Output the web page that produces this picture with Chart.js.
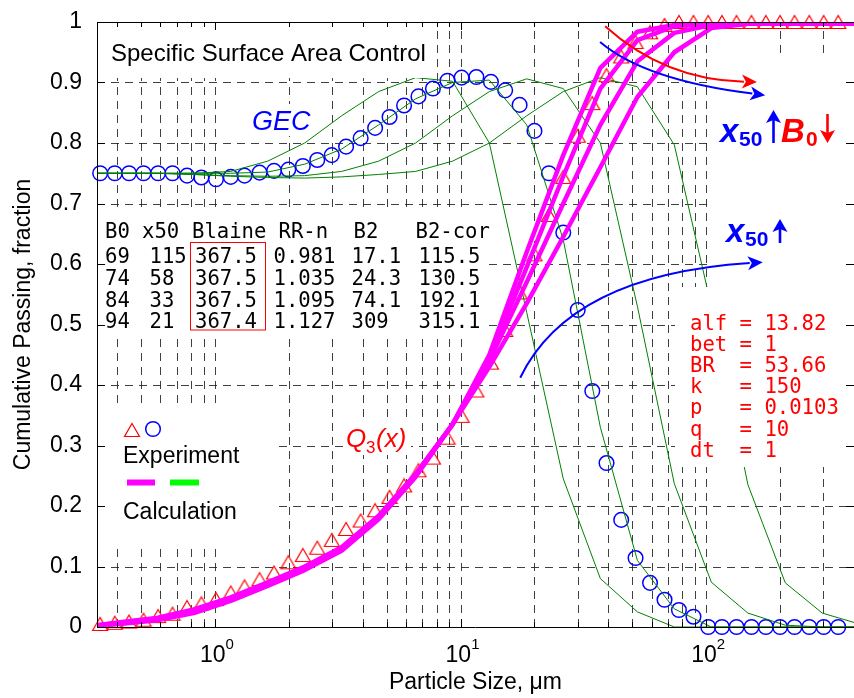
<!DOCTYPE html>
<html>
<head>
<meta charset="utf-8">
<script src="https://cdn.jsdelivr.net/npm/chart.js@4.4.1/dist/chart.umd.min.js"></script>
<style>
  html, body { margin: 0; padding: 0; background: #fff; }
  #wrap { position: relative; width: 854px; height: 698px; }
</style>
</head>
<body>
<div id="wrap"><canvas id="c" width="854" height="698"></canvas></div>
<script>
// Sieve sizes of the measured points, µm
const sizes = [0.341, 0.391, 0.447, 0.512, 0.587, 0.672, 0.770, 0.881, 1.01, 1.16, 1.32, 1.52, 1.74, 1.99, 2.28, 2.61,
  2.99, 3.42, 3.92, 4.49, 5.14, 5.89, 6.74, 7.72, 8.85, 10.1, 11.6, 13.3, 15.2, 17.4, 20.0, 22.9, 26.2, 30.0, 34.4,
  39.3, 45.1, 51.6, 59.1, 67.7, 77.5, 88.8, 102, 116, 133, 153, 175, 200, 229, 263, 301, 345];

// Measured cumulative passing Q3(x)
const q3Measured = [0.005, 0.007, 0.009, 0.012, 0.018, 0.022, 0.033, 0.039, 0.046, 0.057, 0.067, 0.079, 0.090, 0.107,
  0.119, 0.131, 0.144, 0.162, 0.176, 0.193, 0.215, 0.234, 0.259, 0.280, 0.313, 0.349, 0.391, 0.437, 0.491, 0.553,
  0.616, 0.681, 0.744, 0.812, 0.866, 0.912, 0.943, 0.967, 0.983, 0.995, 1, 1, 1, 1, 1, 1, 1, 1, 1, 1, 1, 1];

// Measured GEC
const gecMeasured = [0.750, 0.750, 0.750, 0.750, 0.750, 0.750, 0.746, 0.743, 0.740, 0.744, 0.746, 0.751, 0.754, 0.756,
  0.762, 0.772, 0.780, 0.794, 0.808, 0.825, 0.843, 0.862, 0.877, 0.890, 0.903, 0.908, 0.909, 0.901, 0.887, 0.863,
  0.820, 0.750, 0.652, 0.524, 0.390, 0.271, 0.177, 0.114, 0.073, 0.045, 0.028, 0.017, 0, 0, 0, 0, 0, 0, 0, 0, 0, 0];

// Size grid of the model calculation, µm
const modelSizes = [0.29, 0.41, 0.58, 0.82, 1.16, 1.64, 2.32, 3.28, 4.64, 6.56, 9.28, 13.1, 18.6, 26.2, 37.1, 52.5,
  74.2, 105, 148, 210, 297, 420];

// Calculated Q3 for B0 = 94, 84, 74, 69
const q3Calc94 = [0, 0.005, 0.011, 0.023, 0.043, 0.068, 0.094, 0.126, 0.178, 0.248, 0.335, 0.45, 0.62, 0.78, 0.924,
  0.984, 0.995, 0.997, 0.997, 0.997, 0.997, 0.997];
const q3Calc84 = [0, 0.006, 0.012, 0.025, 0.045, 0.070, 0.096, 0.128, 0.180, 0.250, 0.335, 0.445, 0.595, 0.745, 0.89,
  0.97, 0.993, 0.997, 0.997, 0.997, 0.997, 0.997];
const q3Calc74 = [0, 0.007, 0.014, 0.027, 0.047, 0.072, 0.098, 0.130, 0.182, 0.252, 0.335, 0.44, 0.57, 0.70, 0.83,
  0.935, 0.982, 0.995, 0.997, 0.997, 0.997, 0.997];
const q3Calc69 = [0, 0.008, 0.015, 0.029, 0.049, 0.074, 0.100, 0.132, 0.184, 0.253, 0.335, 0.43, 0.535, 0.645, 0.76,
  0.876, 0.95, 0.99, 0.997, 0.997, 0.997, 0.997];

// Calculated GEC for B0 = 94, 84, 74, 69
const gecCalc94 = [0.75, 0.75, 0.75, 0.75, 0.753, 0.77, 0.80, 0.845, 0.885, 0.908, 0.902, 0.80, 0.52, 0.245, 0.08,
  0.025, 0, 0, 0, 0, 0, 0];
const gecCalc84 = [0.75, 0.75, 0.75, 0.75, 0.75, 0.752, 0.765, 0.79, 0.83, 0.873, 0.90, 0.904, 0.83, 0.64, 0.33,
  0.11, 0.03, 0, 0, 0, 0, 0];
const gecCalc74 = [0.75, 0.75, 0.75, 0.748, 0.746, 0.745, 0.746, 0.753, 0.77, 0.80, 0.845, 0.885, 0.906, 0.89, 0.80,
  0.53, 0.237, 0.074, 0.023, 0.003, 0, 0];
const gecCalc69 = [0.75, 0.75, 0.75, 0.748, 0.745, 0.743, 0.742, 0.744, 0.748, 0.753, 0.77, 0.80, 0.845, 0.885, 0.908,
  0.893, 0.797, 0.53, 0.235, 0.073, 0.023, 0.005];

// Axis ticks
const yTicks = [0, 0.1, 0.2, 0.3, 0.4, 0.5, 0.6, 0.7, 0.8, 0.9, 1];
const xMajorTicks = [1, 10, 100];
const xTickExponents = ['0', '1', '2'];
const xMinorTicks = [0.4, 0.5, 0.6, 0.7, 0.8, 0.9, 2, 3, 4, 5, 6, 7, 8, 9, 20, 30, 40, 50, 60, 70, 80, 90, 200, 300];

// Parameter table
const tableHeader = ['B0', 'x50', 'Blaine', 'RR-n', 'B2', 'B2-cor'];
const tableRows = [
  ['69', '115', '367.5', '0.981', '17.1', '115.5'],
  ['74', '58', '367.5', '1.035', '24.3', '130.5'],
  ['84', '33', '367.5', '1.095', '74.1', '192.1'],
  ['94', '21', '367.4', '1.127', '309', '315.1']
];
const modelParams = ['alf = 13.82', 'bet = 1', 'BR  = 53.66', 'k   = 150', 'p   = 0.0103', 'q   = 10', 'dt  = 1'];

// Trend arrows: start, control and end point in data units
const arrowB0 = { color: '#ff0000', pts: [[38.8, 0.993], [68.0, 0.904], [161, 0.901]] };
const arrowX50top = { color: '#0000ff', pts: [[37.0, 0.967], [56.4, 0.904], [174, 0.879]] };
const arrowX50low = { color: '#0000ff', pts: [[17.5, 0.412], [27.9, 0.582], [170, 0.603]] };

const SANS = '"Liberation Sans", Arial, Helvetica, sans-serif';
const MONO = '"DejaVu Sans Mono", monospace';

function triangleMarker(color) {
  const c = document.createElement('canvas');
  c.width = 18; c.height = 16;
  const g = c.getContext('2d');
  g.strokeStyle = color; g.lineWidth = 1.2;
  g.beginPath(); g.moveTo(9, 1.5); g.lineTo(16.5, 14.5); g.lineTo(1.5, 14.5); g.closePath(); g.stroke();
  return c;
}
const triImg = triangleMarker('#ff0000');

const pairs = (xs, ys) => xs.map((x, i) => ({ x, y: ys[i] }));

function calcLine(ys, color, width) {
  return {
    data: pairs(modelSizes, ys), showLine: true, pointRadius: 0, borderColor: color,
    borderWidth: width, tension: 0, fill: false, borderJoinStyle: 'round', borderCapStyle: 'round'
  };
}

function text(ctx, str, x, y, font, color, align) {
  ctx.font = font; ctx.fillStyle = color; ctx.textAlign = align || 'left'; ctx.textBaseline = 'alphabetic';
  ctx.fillText(str, x, y);
}

function vArrow(ctx, x, yFrom, yTo, color) {
  const dir = yTo < yFrom ? -1 : 1;
  ctx.save();
  ctx.strokeStyle = color; ctx.fillStyle = color; ctx.lineWidth = 2.6;
  ctx.beginPath(); ctx.moveTo(x, yFrom); ctx.lineTo(x, yTo - dir * 10); ctx.stroke();
  ctx.beginPath(); ctx.moveTo(x, yTo); ctx.lineTo(x - 7.5, yTo - dir * 13); ctx.lineTo(x, yTo - dir * 10);
  ctx.lineTo(x + 7.5, yTo - dir * 13); ctx.closePath(); ctx.fill();
  ctx.restore();
}

function curvedArrow(ctx, xs, ys, a) {
  const p = a.pts.map(([x, y]) => [xs.getPixelForValue(x), ys.getPixelForValue(y)]);
  const [p0, p1, p2] = p;
  const dx = p2[0] - p1[0], dy = p2[1] - p1[1];
  const len = Math.hypot(dx, dy), ux = dx / len, uy = dy / len;
  const hl = 15, hw = 7;
  const bx = p2[0] - ux * hl, by = p2[1] - uy * hl;
  ctx.save();
  ctx.strokeStyle = a.color; ctx.fillStyle = a.color; ctx.lineWidth = 2;
  ctx.beginPath(); ctx.moveTo(p0[0], p0[1]); ctx.quadraticCurveTo(p1[0], p1[1], bx + ux * 2, by + uy * 2); ctx.stroke();
  ctx.beginPath(); ctx.moveTo(p2[0], p2[1]);
  ctx.lineTo(bx - uy * hw, by + ux * hw); ctx.lineTo(bx + ux * 4, by + uy * 4); ctx.lineTo(bx + uy * hw, by - ux * hw);
  ctx.closePath(); ctx.fill();
  ctx.restore();
}

const decorations = {
  id: 'decorations',
  beforeDatasetsDraw(chart) {
    const { ctx, chartArea: a, scales: { x: xs, y: ys } } = chart;
    ctx.save();
    ctx.strokeStyle = 'rgba(30,30,30,0.85)'; ctx.lineWidth = 1; ctx.setLineDash([8, 6]);
    for (const v of xMinorTicks.concat(xMajorTicks)) {
      const px = Math.round(xs.getPixelForValue(v)) + 0.5;
      ctx.beginPath(); ctx.moveTo(px, a.bottom); ctx.lineTo(px, a.top); ctx.stroke();
    }
    for (const v of yTicks.slice(1, -1)) {
      const py = Math.round(ys.getPixelForValue(v)) + 0.5;
      ctx.beginPath(); ctx.moveTo(a.left, py); ctx.lineTo(a.right, py); ctx.stroke();
    }
    ctx.restore();
  },
  afterDatasetsDraw(chart) {
    const { ctx, chartArea: a, scales: { x: xs, y: ys } } = chart;
    ctx.save();
    // white text backgrounds
    ctx.fillStyle = '#ffffff';
    [[103, 27, 329, 51], [249, 104, 65, 32], [99, 213, 396, 29], [99, 242, 387, 91], [99, 406, 177, 137],
     [344, 422, 67, 33], [708, 58, 146, 229], [675, 287, 179, 180]].forEach(r => ctx.fillRect(r[0], r[1], r[2], r[3]));

    text(ctx, 'Specific Surface Area Control', 111, 61, '24px ' + SANS, '#000');
    text(ctx, 'GEC', 252, 130, 'italic 27px ' + SANS, '#0000ff');
    text(ctx, 'Q', 346, 447, 'italic 26px ' + SANS, '#ff0000');
    text(ctx, '3', 366, 453, '17px ' + SANS, '#ff0000');
    text(ctx, '(x)', 376, 447, 'italic 26px ' + SANS, '#ff0000');

    // parameter table
    const mono = '20.6px ' + MONO;
    const colX = [105, 149.5, 195, 273.5, 351.5, 418.5];
    const headX = [105, 142, 192, 278.5, 353.5, 415.5];
    tableHeader.forEach((s, i) => text(ctx, s, headX[i], 238.3, mono, '#000'));
    tableRows.forEach((row, r) => row.forEach((s, i) => text(ctx, s, colX[i], 263.3 + r * 21.7, mono, '#000')));
    ctx.strokeStyle = '#ff0000'; ctx.lineWidth = 1;
    ctx.strokeRect(190.5, 242.5, 75, 87.5);

    // model parameters
    modelParams.forEach((s, i) => text(ctx, s, 690, 330 + i * 21.1, mono, '#ff0000'));

    // trend labels
    const bi = 'bold italic 33px ' + SANS, sb = 'bold 21px ' + SANS;
    text(ctx, 'x', 720, 142, bi, '#0000ff');
    text(ctx, '50', 739, 146, sb, '#0000ff');
    vArrow(ctx, 773.5, 143, 110, '#0000ff');
    text(ctx, 'B', 781, 142, bi, '#ff0000');
    text(ctx, '0', 806, 146, sb, '#ff0000');
    vArrow(ctx, 827.5, 114, 143, '#ff0000');
    text(ctx, 'x', 726, 242, bi, '#0000ff');
    text(ctx, '50', 745, 246, sb, '#0000ff');
    vArrow(ctx, 780, 243, 219, '#0000ff');

    // legend
    ctx.drawImage(triImg, 123, 422);
    ctx.strokeStyle = '#0000ff'; ctx.lineWidth = 1.5;
    ctx.beginPath(); ctx.arc(153, 429, 7.3, 0, Math.PI * 2); ctx.stroke();
    text(ctx, 'Experiment', 123, 463, '23px ' + SANS, '#000');
    ctx.lineWidth = 6; ctx.lineCap = 'butt';
    ctx.strokeStyle = '#ff00ff'; ctx.beginPath(); ctx.moveTo(127, 482.5); ctx.lineTo(155, 482.5); ctx.stroke();
    ctx.strokeStyle = '#00ff00'; ctx.beginPath(); ctx.moveTo(170, 482.5); ctx.lineTo(199, 482.5); ctx.stroke();
    text(ctx, 'Calculation', 123, 519, '23px ' + SANS, '#000');

    // axes box and ticks
    ctx.strokeStyle = '#000'; ctx.lineWidth = 1;
    ctx.beginPath();
    ctx.moveTo(a.left + 0.5, a.bottom + 0.5); ctx.lineTo(a.left + 0.5, a.top + 0.5); ctx.lineTo(a.right + 0.5, a.top + 0.5);
    ctx.moveTo(a.left, a.bottom + 0.5); ctx.lineTo(a.right, a.bottom + 0.5);
    for (const v of yTicks) {
      const py = Math.round(ys.getPixelForValue(v)) + 0.5;
      ctx.moveTo(a.left, py); ctx.lineTo(a.left + 8, py);
      ctx.moveTo(a.right, py); ctx.lineTo(a.right - 8, py);
    }
    for (const v of xMajorTicks) {
      const px = Math.round(xs.getPixelForValue(v)) + 0.5;
      ctx.moveTo(px, a.bottom); ctx.lineTo(px, a.bottom - 8);
      ctx.moveTo(px, a.top); ctx.lineTo(px, a.top + 8);
    }
    for (const v of xMinorTicks) {
      const px = Math.round(xs.getPixelForValue(v)) + 0.5;
      ctx.moveTo(px, a.bottom); ctx.lineTo(px, a.bottom - 5);
      ctx.moveTo(px, a.top); ctx.lineTo(px, a.top + 5);
    }
    ctx.stroke();

    // x tick labels with exponents
    xMajorTicks.forEach((v, i) => {
      const px = xs.getPixelForValue(v);
      ctx.font = '23px ' + SANS; const w1 = ctx.measureText('10').width;
      ctx.font = '15px ' + SANS; const w2 = ctx.measureText(xTickExponents[i]).width;
      const x0 = px - (w1 + w2) / 2 + 2;
      text(ctx, '10', x0, 662, '23px ' + SANS, '#000');
      text(ctx, xTickExponents[i], x0 + w1, 649, '15px ' + SANS, '#000');
    });

    // trend arrows
    [arrowB0, arrowX50top, arrowX50low].forEach(ar => curvedArrow(ctx, xs, ys, ar));
    ctx.restore();
  }
};

new Chart(document.getElementById('c'), {
  type: 'scatter',
  data: {
    datasets: [
      calcLine(q3Calc94, '#ff00ff', 4.5),
      calcLine(q3Calc84, '#ff00ff', 4.5),
      calcLine(q3Calc74, '#ff00ff', 4.5),
      calcLine(q3Calc69, '#ff00ff', 4.5),
      calcLine(gecCalc94, '#008000', 1),
      calcLine(gecCalc84, '#008000', 1),
      calcLine(gecCalc74, '#008000', 1),
      calcLine(gecCalc69, '#008000', 1),
      { data: pairs(sizes, q3Measured), showLine: false, pointStyle: triImg, pointRadius: 8, clip: false },
      { data: pairs(sizes, gecMeasured), showLine: false, pointStyle: 'circle', pointRadius: 7.3,
        pointBorderWidth: 1.5, borderColor: '#0000ff', backgroundColor: 'rgba(0,0,0,0)', clip: false }
    ]
  },
  options: {
    responsive: false,
    animation: false,
    devicePixelRatio: 1,
    layout: { autoPadding: false, padding: { top: 22, right: 0, bottom: 0, left: 0 } },
    plugins: { legend: { display: false }, tooltip: { enabled: false } },
    scales: {
      x: {
        type: 'logarithmic', min: 0.331, max: 400, bounds: 'data',
        grid: { display: false }, border: { display: false },
        ticks: { display: false },
        title: { display: true, text: 'Particle Size, \u03bcm', color: '#000',
                 font: { family: 'Liberation Sans', size: 23 }, padding: { top: 0, bottom: 2 } },
        afterFit(s) { s.height = 71; s.paddingLeft = 0; s.paddingRight = 0; }
      },
      y: {
        min: 0, max: 1,
        grid: { display: false, drawTicks: false }, border: { display: false },
        ticks: { stepSize: 0.1, color: '#000', padding: 15, font: { family: 'Liberation Sans', size: 23 },
                 callback: v => String(Math.round(v * 10) / 10) },
        title: { display: true, text: 'Cumulative Passing, fraction', color: '#000',
                 font: { family: 'Liberation Sans', size: 23 }, padding: { top: 10, bottom: 0 } },
        afterFit(s) { s.width = 97; s.paddingTop = 0; s.paddingBottom = 0; }
      }
    }
  },
  plugins: [decorations]
});
</script>
</body>
</html>
